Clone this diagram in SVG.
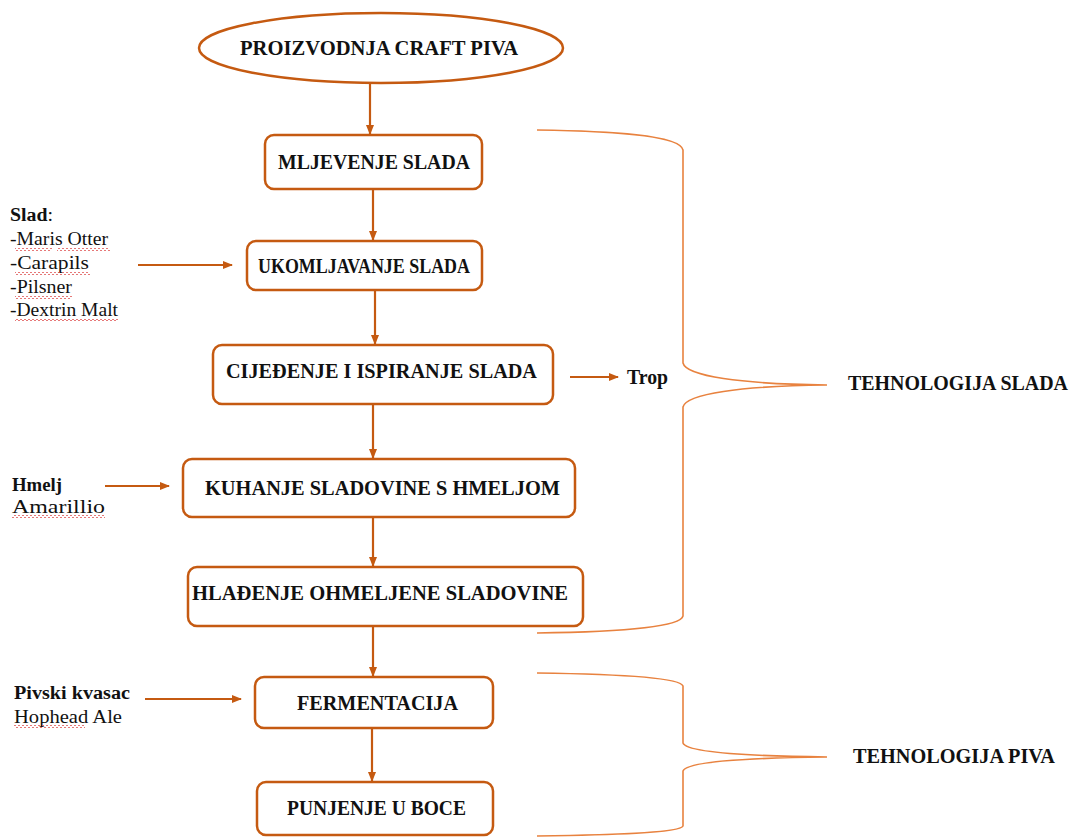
<svg xmlns="http://www.w3.org/2000/svg" width="1080" height="839" viewBox="0 0 1080 839">
<style>
.box{fill:#fff;stroke:#C55A11;stroke-width:2.5}
.lbl{font-family:"Liberation Serif","Times New Roman",serif;font-weight:bold;font-size:20px;fill:#111}
.side{font-family:"Liberation Serif","Times New Roman",serif;font-size:18px;fill:#111}
.sideb{font-family:"Liberation Serif","Times New Roman",serif;font-size:18px;font-weight:bold;fill:#111}
.con{stroke:#C55A11;stroke-width:2.2;fill:none}
.brace{stroke:#E8823F;stroke-width:1.6;fill:none}
</style>
<defs>
<marker id="ah" markerWidth="10" markerHeight="10" refX="9" refY="5" orient="auto" markerUnits="userSpaceOnUse">
<path d="M0,1 L10,5 L0,9 Z" fill="#C55A11"/>
</marker>
<pattern id="wavy" width="4" height="3" patternUnits="userSpaceOnUse">
<path d="M0 2 Q1 0 2 2 T4 2" stroke="#E05555" stroke-width="0.8" fill="none"/>
</pattern>
</defs>
<rect width="1080" height="839" fill="#fff"/>

<g id="connectors">
<line class="con" x1="370" y1="83" x2="370" y2="134" marker-end="url(#ah)"/>
<line class="con" x1="373" y1="189" x2="373" y2="240" marker-end="url(#ah)"/>
<line class="con" x1="138" y1="265" x2="232" y2="265" marker-end="url(#ah)"/>
<line class="con" x1="375" y1="290" x2="375" y2="344" marker-end="url(#ah)"/>
<line class="con" x1="570" y1="377" x2="618" y2="377" marker-end="url(#ah)"/>
<line class="con" x1="373" y1="404" x2="373" y2="458" marker-end="url(#ah)"/>
<line class="con" x1="105" y1="486" x2="169" y2="486" marker-end="url(#ah)"/>
<line class="con" x1="373" y1="517" x2="373" y2="566" marker-end="url(#ah)"/>
<line class="con" x1="373" y1="626" x2="373" y2="676" marker-end="url(#ah)"/>
<line class="con" x1="145" y1="699" x2="241" y2="699" marker-end="url(#ah)"/>
<line class="con" x1="372" y1="728" x2="372" y2="781" marker-end="url(#ah)"/>
</g>

<g id="braces">
<path class="brace" d="M537 130 C610 131 680 135 683 150 L683 363 C686 376 740 384 827 385 C740 386 686 394 683 407 L683 616 C680 628 610 632 537 633"/>
<path class="brace" d="M537 673 C610 674 680 677 683 686 L683 743 C686 752 740 756 827 757 C740 758 686 762 683 771 L683 826 C680 833 610 835 537 836"/>
</g>

<g id="n-start">
<ellipse cx="381" cy="48" rx="182" ry="35" class="box"/>
<text class="lbl" x="240" y="55" textLength="278" lengthAdjust="spacingAndGlyphs">PROIZVODNJA CRAFT PIVA</text>
</g>
<g id="n-mljevenje">
<rect class="box" x="265" y="135" width="217" height="54" rx="9"/>
<text class="lbl" x="278" y="169" textLength="192" lengthAdjust="spacingAndGlyphs">MLJEVENJE SLADA</text>
</g>
<g id="n-ukomljavanje">
<rect class="box" x="247" y="241" width="235" height="49" rx="9"/>
<text class="lbl" x="258" y="273" textLength="212" lengthAdjust="spacingAndGlyphs">UKOMLJAVANJE SLADA</text>
</g>
<g id="n-cijedenje">
<rect class="box" x="213" y="345" width="340" height="59" rx="9"/>
<text class="lbl" x="226" y="378" textLength="311" lengthAdjust="spacingAndGlyphs">CIJEĐENJE I ISPIRANJE SLADA</text>
</g>
<g id="n-kuhanje">
<rect class="box" x="183" y="459" width="392" height="58" rx="9"/>
<text class="lbl" x="205" y="495" textLength="355" lengthAdjust="spacingAndGlyphs">KUHANJE SLADOVINE S HMELJOM</text>
</g>
<g id="n-hladenje">
<rect class="box" x="188" y="567" width="395" height="59" rx="9"/>
<text class="lbl" x="192" y="600" textLength="376" lengthAdjust="spacingAndGlyphs">HLAĐENJE OHMELJENE SLADOVINE</text>
</g>
<g id="n-fermentacija">
<rect class="box" x="255" y="677" width="238" height="51" rx="9"/>
<text class="lbl" x="297" y="710" textLength="161" lengthAdjust="spacingAndGlyphs">FERMENTACIJA</text>
</g>
<g id="n-punjenje">
<rect class="box" x="257" y="782" width="236" height="53" rx="9"/>
<text class="lbl" x="287" y="815" textLength="179" lengthAdjust="spacingAndGlyphs">PUNJENJE U BOCE</text>
</g>

<g id="n-trop">
<text class="lbl" x="627" y="384" textLength="41" lengthAdjust="spacingAndGlyphs">Trop</text>
</g>
<g id="n-tech-slada">
<text class="lbl" x="848" y="390" textLength="220" lengthAdjust="spacingAndGlyphs">TEHNOLOGIJA SLADA</text>
</g>
<g id="n-tech-piva">
<text class="lbl" x="853" y="763" textLength="202" lengthAdjust="spacingAndGlyphs">TEHNOLOGIJA PIVA</text>
</g>

<g id="n-slad">
<text x="10" y="221" textLength="43" lengthAdjust="spacingAndGlyphs"><tspan class="sideb">Slad</tspan><tspan class="side">:</tspan></text>
<text class="side" x="10" y="245" textLength="98" lengthAdjust="spacingAndGlyphs">-Maris Otter</text>
<text class="side" x="10" y="269" textLength="79" lengthAdjust="spacingAndGlyphs">-Carapils</text>
<text class="side" x="10" y="293" textLength="62" lengthAdjust="spacingAndGlyphs">-Pilsner</text>
<text class="side" x="10" y="316" textLength="108" lengthAdjust="spacingAndGlyphs">-Dextrin Malt</text>
<rect x="15" y="248" width="37" height="3" fill="url(#wavy)"/>
<rect x="57" y="248" width="53" height="3" fill="url(#wavy)"/>
<rect x="15" y="272" width="75" height="3" fill="url(#wavy)"/>
<rect x="15" y="296" width="57" height="3" fill="url(#wavy)"/>
<rect x="15" y="319" width="103" height="3" fill="url(#wavy)"/>
</g>
<g id="n-hmelj">
<text class="sideb" x="12" y="491" textLength="50" lengthAdjust="spacingAndGlyphs">Hmelj</text>
<text class="side" x="12" y="513" textLength="93" lengthAdjust="spacingAndGlyphs">Amarillio</text>
<rect x="12" y="515" width="93" height="3" fill="url(#wavy)"/>
</g>
<g id="n-kvasac">
<text class="sideb" x="14" y="699" textLength="116" lengthAdjust="spacingAndGlyphs">Pivski kvasac</text>
<text class="side" x="14" y="723" textLength="108" lengthAdjust="spacingAndGlyphs">Hophead Ale</text>
<rect x="14" y="725" width="71" height="3" fill="url(#wavy)"/>
</g>
</svg>
